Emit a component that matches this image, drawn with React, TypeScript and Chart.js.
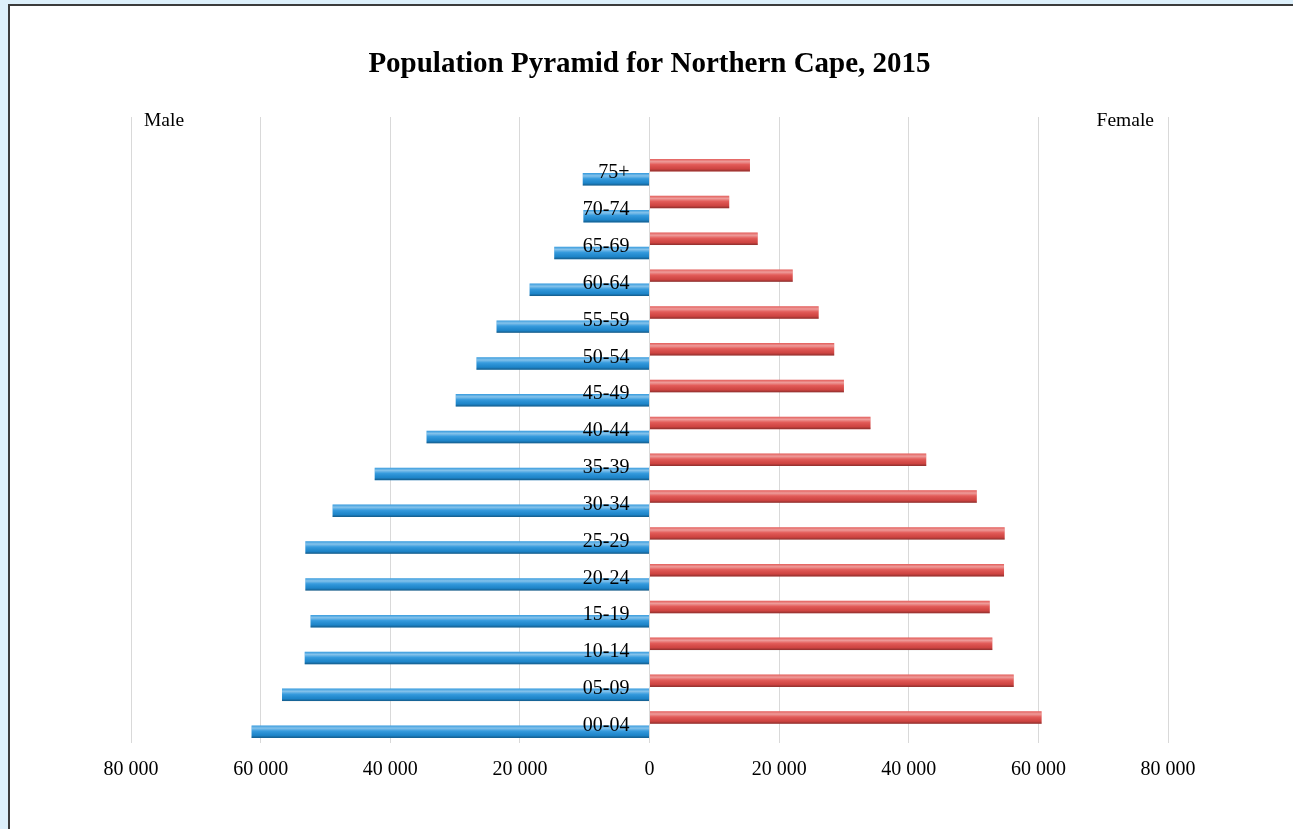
import React, { useEffect, useRef } from "react";
import { Chart, registerables } from "chart.js";

Chart.register(...registerables);

// Age groups listed top to bottom, as drawn
const ageGroups = [
  "75+", "70-74", "65-69", "60-64", "55-59", "50-54", "45-49", "40-44",
  "35-39", "30-34", "25-29", "20-24", "15-19", "10-14", "05-09", "00-04",
];
const femaleValues = [
  15500, 12300, 16700, 22100, 26100, 28500, 30000, 34100,
  42700, 50500, 54800, 54700, 52500, 52900, 56200, 60500,
];
const maleValues = [
  10300, 10200, 14700, 18500, 23600, 26700, 29900, 34400,
  42400, 48900, 53100, 53100, 52300, 53200, 56700, 61400,
];
const xTickValues = [-80000, -60000, -40000, -20000, 0, 20000, 40000, 60000, 80000];
const titleText = "Population Pyramid for Northern Cape, 2015";
const maleLabel = "Male";
const femaleLabel = "Female";

const SERIF = "'Liberation Serif', 'Times New Roman', serif";

const fmt = (v: number) =>
  String(Math.abs(v)).replace(/\B(?=(\d{3})+(?!\d))/g, " ");

const barShine = {
  id: "barShine",
  afterDatasetsDraw(chart: any) {
    const ctx = chart.ctx;
    ctx.save();
    chart.data.datasets.forEach((_ds: any, di: number) => {
      const meta = chart.getDatasetMeta(di);
      meta.data.forEach((el: any) => {
        const p = el.getProps(["x", "y", "base", "height"], true);
        if (!isFinite(p.x) || !isFinite(p.base)) return;
        const left = Math.min(p.x, p.base);
        const right = Math.max(p.x, p.base);
        if (right - left < 1) return;
        const top = p.y - p.height / 2;
        const bottom = p.y + p.height / 2;
        const g = ctx.createLinearGradient(0, top, 0, bottom);
        g.addColorStop(0, "rgba(255,255,255,0.10)");
        g.addColorStop(0.22, "rgba(255,255,255,0.45)");
        g.addColorStop(0.45, "rgba(255,255,255,0.10)");
        g.addColorStop(0.8, "rgba(0,0,0,0.08)");
        g.addColorStop(1, "rgba(0,0,0,0.38)");
        ctx.fillStyle = g;
        ctx.fillRect(left, top, right - left, bottom - top);
      });
    });
    ctx.restore();
  },
};

const textLabels = {
  id: "textLabels",
  afterDatasetsDraw(chart: any) {
    const ctx = chart.ctx;
    const xs = chart.scales.x;
    const ys = chart.scales.y;
    const area = chart.chartArea;
    ctx.save();
    ctx.fillStyle = "#000";
    ctx.font = `20px ${SERIF}`;
    ctx.textBaseline = "middle";
    ctx.textAlign = "right";
    const x0 = xs.getPixelForValue(0) - 20;
    chart.data.labels.forEach((lab: string, i: number) => {
      if (!lab) return;
      ctx.fillText(lab, x0, ys.getPixelForValue(i) + 1);
    });
    ctx.font = `19.5px ${SERIF}`;
    ctx.textAlign = "left";
    ctx.fillText(maleLabel, area.left + 13, area.top + 4);
    ctx.textAlign = "right";
    ctx.fillText(femaleLabel, area.right - 14, area.top + 4);
    ctx.restore();
  },
};

export default function App() {
  const ref = useRef<HTMLCanvasElement | null>(null);

  useEffect(() => {
    if (!ref.current) return;
    const labels = ["", ...ageGroups];
    const chart = new Chart(ref.current, {
      type: "bar",
      data: {
        labels,
        datasets: [
          {
            label: femaleLabel,
            data: [null, ...femaleValues],
            backgroundColor: "#e04a47",
            borderWidth: 0,
            barPercentage: 0.88,
            categoryPercentage: 0.77,
          },
          {
            label: maleLabel,
            data: [null, ...maleValues.map((v) => -v)],
            backgroundColor: "#2090da",
            borderWidth: 0,
            barPercentage: 0.88,
            categoryPercentage: 0.77,
          },
        ],
      },
      options: {
        indexAxis: "y",
        responsive: false,
        animation: false,
        devicePixelRatio: 1,
        layout: { padding: { left: 131, right: 125, top: 0, bottom: 32 } },
        plugins: {
          legend: { display: false },
          tooltip: { enabled: false },
          title: {
            display: true,
            text: titleText,
            color: "#000",
            font: { family: SERIF, size: 29, weight: "bold" },
            padding: { top: 47.6, bottom: 34.6 },
          },
        },
        scales: {
          x: {
            type: "linear",
            min: xTickValues[0],
            max: xTickValues[xTickValues.length - 1],
            afterBuildTicks: (scale: any) => {
              scale.ticks = xTickValues.map((v) => ({ value: v }));
            },
            ticks: {
              callback: (v: any) => fmt(Number(v)),
              color: "#000",
              font: { family: SERIF, size: 20 },
              padding: 15,
              maxRotation: 0,
            },
            grid: { color: "#d9d9d9", lineWidth: 1, drawTicks: false },
            border: { display: false },
          },
          y: {
            type: "category",
            display: false,
            stacked: false,
          },
        },
      },
      plugins: [barShine, textLabels],
    } as any);
    return () => chart.destroy();
  }, []);

  return (
    <div
      style={{
        position: "fixed",
        left: 0,
        top: 0,
        width: 1293,
        height: 829,
        overflow: "hidden",
        background: "#ddf0fb",
      }}
    >
      <div
        style={{
          position: "absolute",
          left: 8,
          top: 4,
          width: 1400,
          height: 900,
          border: "2px solid #3c3c3c",
          background: "#fff",
          boxSizing: "border-box",
        }}
      />
      <canvas
        ref={ref}
        width={1293}
        height={829}
        style={{ position: "absolute", left: 0, top: 0, display: "block" }}
      />
    </div>
  );
}
